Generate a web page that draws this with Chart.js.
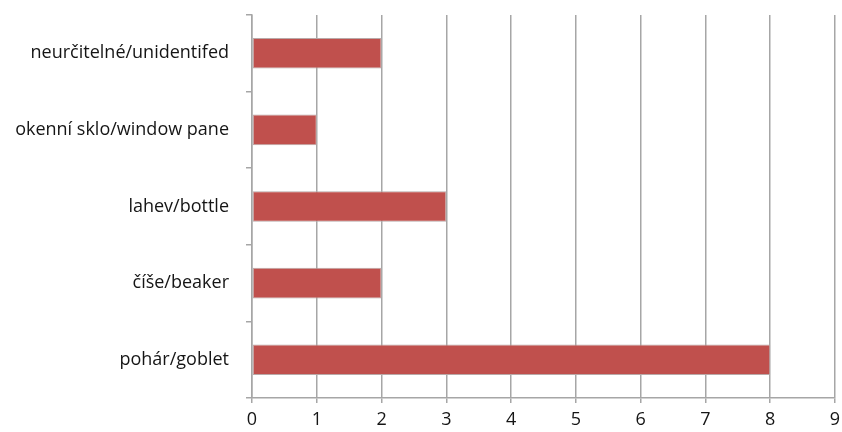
<!DOCTYPE html>
<html>
<head>
<meta charset="utf-8">
<script src="https://cdn.jsdelivr.net/npm/chart.js@4/dist/chart.umd.min.js"></script>
<style>
  html, body { margin: 0; padding: 0; background: #fff; }
  #wrap { width: 842px; height: 432px; }
</style>
</head>
<body>
<div id="wrap"><canvas id="glassChart"></canvas></div>
<script>
// glass fragment types and counts
const categories = [
  'neurčitelné/unidentifed',
  'okenní sklo/window pane',
  'lahev/bottle',
  'číše/beaker',
  'pohár/goblet'
];
const counts = [2, 1, 3, 2, 8];
const xTicks = [0, 1, 2, 3, 4, 5, 6, 7, 8, 9];

const gridGrey = '#a6a6a6';
const labelFont = { family: 'Open Sans', size: 18 };

new Chart(document.getElementById('glassChart').getContext('2d'), {
  type: 'bar',
  data: {
    labels: categories,
    datasets: [{
      data: counts,
      backgroundColor: '#c0504d',
      borderColor: '#b9a9a8',
      borderWidth: 1,
      borderSkipped: false,
      barPercentage: 0.4,
      categoryPercentage: 1
    }]
  },
  options: {
    indexAxis: 'y',
    responsive: true,
    maintainAspectRatio: false,
    animation: false,
    layout: { padding: { top: 15, right: 7, left: 0, bottom: 0 } },
    plugins: { legend: { display: false }, tooltip: { enabled: false } },
    scales: {
      x: {
        min: xTicks[0],
        max: xTicks[xTicks.length - 1],
        afterBuildTicks: s => { s.ticks = xTicks.map(v => ({ value: v })); },
        afterFit: s => { s.height = 34; s.paddingRight = 0; s.paddingLeft = 0; },
        grid: { color: gridGrey, lineWidth: 1.5, tickLength: 5 },
        border: { color: gridGrey, width: 1.5 },
        ticks: { color: '#151515', font: labelFont, padding: 6 }
      },
      y: {
        // labels sit mid-category, so no extra room is needed above/below
        afterFit: s => { s.width = 252; s.paddingTop = 0; s.paddingBottom = 0; },
        grid: { offset: true, drawOnChartArea: false, color: gridGrey, lineWidth: 1.5, tickLength: 6 },
        border: { color: gridGrey, width: 1.5 },
        ticks: { color: '#151515', font: labelFont, padding: 17 }
      }
    }
  }
});
</script>
</body>
</html>
